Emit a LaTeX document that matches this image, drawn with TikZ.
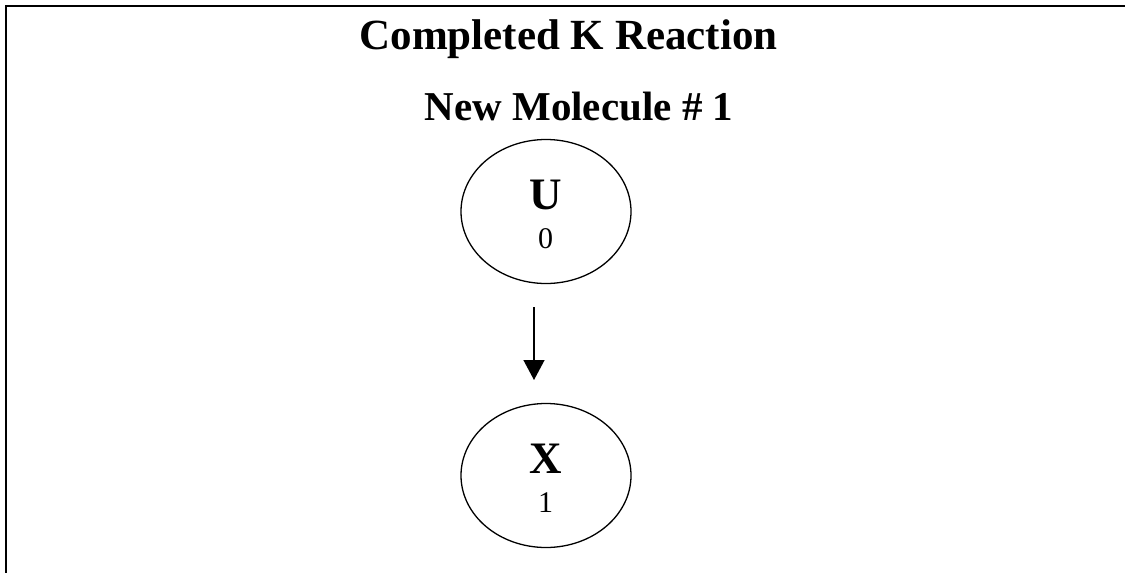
\documentclass[tikz,border=0pt]{standalone}
\usepackage{fontspec}
\setmainfont{Liberation Serif}
\usetikzlibrary{arrows.meta,shapes.geometric}
\begin{document}
\begin{tikzpicture}[x=1pt,y=1pt,
  title/.style={font=\fontsize{43}{50}\selectfont\bfseries, anchor=base, inner sep=0pt},
  mol/.style={draw, line width=1.3pt, ellipse, minimum width=170pt, minimum height=144pt, inner sep=0pt},
  letter/.style={font=\fontsize{45}{50}\selectfont\bfseries, anchor=base, inner sep=0pt},
  num/.style={font=\fontsize{30}{34}\selectfont, anchor=base, inner sep=0pt},
  conn/.style={line width=1.4pt, -{Triangle[width=21pt,length=20pt]}}]
\useasboundingbox (0,0) rectangle (1125,-573);
\fill[white] (0,0) rectangle (1125,-573);
% frame
\draw[line width=2.2pt] (6,-574) -- (6,-5.8) -- (1126,-5.8);
% titles
\node[title] (t1) at (568.5,-49) {Completed K Reaction};
\node[title, font=\fontsize{41}{50}\selectfont\bfseries] (t2) at (579,-120) {New Molecule \# 1};
% molecules
\node[mol] (U) at (546,-211.5) {};
\node[letter] (Ul) at (545.5,-209) {U};
\node[num] (Un) at (545.5,-248) {0};
\node[mol] (X) at (546,-475.5) {};
\node[letter] (Xl) at (545.5,-473) {X};
\node[num] (Xn) at (545.5,-512) {1};
% arrow
\coordinate (a1) at (534,-307);
\coordinate (a2) at (534,-380);
\draw[conn] (a1) -- (a2);
\end{tikzpicture}
\end{document}
